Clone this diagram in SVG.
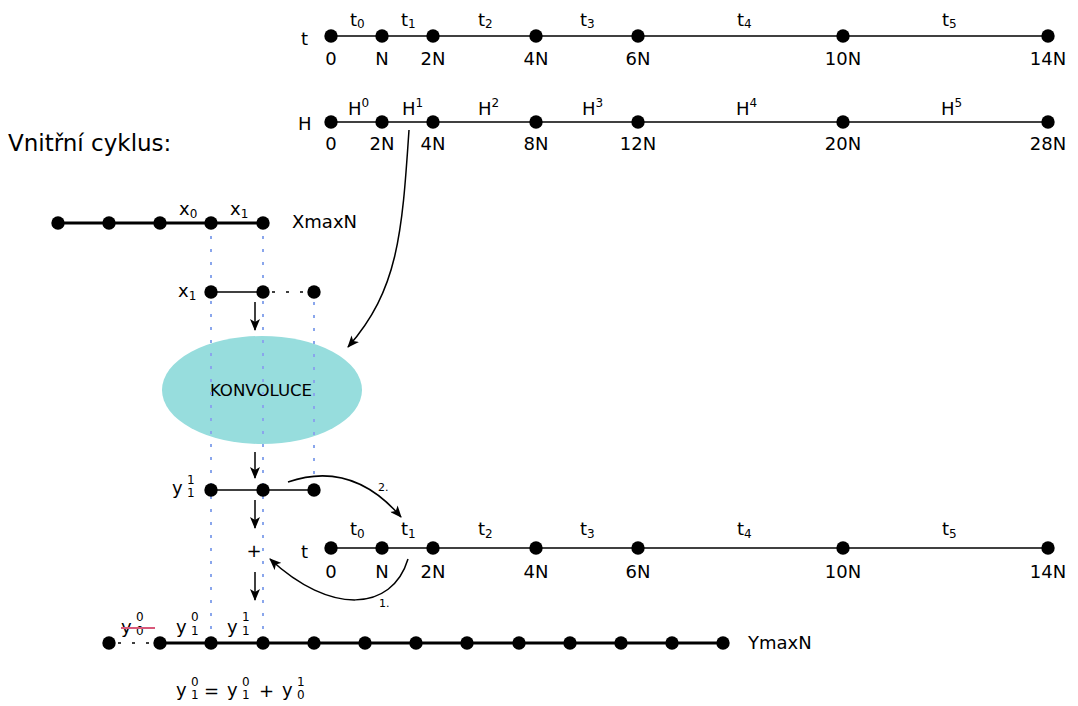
<svg xmlns="http://www.w3.org/2000/svg" width="1078" height="706" viewBox="0 0 1078 706">
<style>
text{font-family:"DejaVu Sans",sans-serif;fill:#000}
.l{font-size:18px}
.m{text-anchor:middle}
.s{font-size:12px}
.xs{font-size:11px}
.ln{stroke:#000;stroke-width:1.6;fill:none}
.th{stroke:#000;stroke-width:3;fill:none}
.dd{stroke:#000;stroke-width:1.6;stroke-dasharray:3 11;fill:none}
.bl{stroke:#8aa6ec;stroke-width:2;stroke-dasharray:3 10;fill:none}
.ar{stroke:#000;stroke-width:1.5;fill:none;marker-end:url(#a)}
</style>
<defs>
<marker id="a" viewBox="0 0 12 10" refX="11" refY="5" markerWidth="12" markerHeight="10" markerUnits="userSpaceOnUse" orient="auto">
<path d="M0,0 L12,5 L0,10 L3,5 z" fill="#000"/>
</marker>
<circle id="d" r="6.7" fill="#000"/>
</defs>
<rect width="1078" height="706" fill="#fff"/>

<text class="l" x="8" y="151" style="font-size:23px">Vnitřní cyklus:</text>

<g id="konvoluce">
<ellipse cx="262" cy="390" rx="100" ry="54" fill="#97dddd"/>
<text class="m" x="261" y="396" style="font-size:16.6px">KONVOLUCE</text>
</g>

<g id="guides">
<line class="bl" x1="211" y1="236" x2="211" y2="640"/>
<line class="bl" x1="263" y1="236" x2="263" y2="640"/>
<line class="bl" x1="314" y1="302" x2="314" y2="484"/>
</g>

<g id="t-top">
<line class="ln" x1="331" y1="36" x2="1048" y2="36"/>
<use href="#d" x="331" y="36"/><use href="#d" x="382" y="36"/><use href="#d" x="433" y="36"/><use href="#d" x="536" y="36"/><use href="#d" x="638" y="36"/><use href="#d" x="843" y="36"/><use href="#d" x="1048" y="36"/>
<text class="l" x="301" y="45">t</text>
<text class="l m" x="331" y="65">0</text><text class="l m" x="382" y="65">N</text><text class="l m" x="433" y="65">2N</text><text class="l m" x="536" y="65">4N</text><text class="l m" x="638" y="65">6N</text><text class="l m" x="843" y="65">10N</text><text class="l m" x="1048" y="65">14N</text>
<text class="l" x="350" y="26">t<tspan class="s" dy="2">0</tspan></text>
<text class="l" x="401" y="26">t<tspan class="s" dy="2">1</tspan></text>
<text class="l" x="478" y="26">t<tspan class="s" dy="2">2</tspan></text>
<text class="l" x="580" y="26">t<tspan class="s" dy="2">3</tspan></text>
<text class="l" x="737" y="26">t<tspan class="s" dy="2">4</tspan></text>
<text class="l" x="942" y="26">t<tspan class="s" dy="2">5</tspan></text>
</g>

<g id="h-line">
<line class="ln" x1="331" y1="122" x2="1048" y2="122"/>
<use href="#d" x="331" y="122"/><use href="#d" x="382" y="122"/><use href="#d" x="433" y="122"/><use href="#d" x="536" y="122"/><use href="#d" x="638" y="122"/><use href="#d" x="843" y="122"/><use href="#d" x="1048" y="122"/>
<text class="l" x="298" y="130">H</text>
<text class="l m" x="331" y="150">0</text><text class="l m" x="382" y="150">2N</text><text class="l m" x="433" y="150">4N</text><text class="l m" x="536" y="150">8N</text><text class="l m" x="638" y="150">12N</text><text class="l m" x="843" y="150">20N</text><text class="l m" x="1048" y="150">28N</text>
<text class="l" x="348" y="115">H<tspan class="s" dy="-8">0</tspan></text>
<text class="l" x="402" y="115">H<tspan class="s" dy="-8">1</tspan></text>
<text class="l" x="478" y="115">H<tspan class="s" dy="-8">2</tspan></text>
<text class="l" x="582" y="115">H<tspan class="s" dy="-8">3</tspan></text>
<text class="l" x="736" y="115">H<tspan class="s" dy="-8">4</tspan></text>
<text class="l" x="941" y="115">H<tspan class="s" dy="-8">5</tspan></text>
</g>

<g id="xmax">
<line class="th" x1="58" y1="223" x2="263" y2="223"/>
<use href="#d" x="58" y="223"/><use href="#d" x="109" y="223"/><use href="#d" x="160" y="223"/><use href="#d" x="211" y="223"/><use href="#d" x="263" y="223"/>
<text class="l" x="179" y="215">x<tspan class="s" dy="3">0</tspan></text>
<text class="l" x="230" y="215">x<tspan class="s" dy="3">1</tspan></text>
<text class="l" x="292" y="228">XmaxN</text>
</g>

<g id="x1-row">
<line class="ln" x1="211" y1="292" x2="263" y2="292"/>
<line class="dd" x1="272" y1="292" x2="310" y2="292"/>
<use href="#d" x="211" y="292"/><use href="#d" x="263" y="292"/><use href="#d" x="314" y="292"/>
<text class="l" x="178" y="297">x<tspan class="s" dy="3">1</tspan></text>
</g>

<g id="y11-row">
<line class="ln" x1="211" y1="490" x2="314" y2="490"/>
<use href="#d" x="211" y="490"/><use href="#d" x="263" y="490"/><use href="#d" x="314" y="490"/>
<text class="l" x="172" y="494">y</text>
<text class="s" x="187" y="484">1</text>
<text class="s" x="187" y="497">1</text>
</g>

<text id="plus" class="l m" x="254" y="557">+</text>

<g id="t-bottom">
<line class="ln" x1="331" y1="548" x2="1048" y2="548"/>
<use href="#d" x="331" y="548"/><use href="#d" x="382" y="548"/><use href="#d" x="433" y="548"/><use href="#d" x="536" y="548"/><use href="#d" x="638" y="548"/><use href="#d" x="843" y="548"/><use href="#d" x="1048" y="548"/>
<text class="l" x="301" y="558">t</text>
<text class="l m" x="331" y="578">0</text><text class="l m" x="382" y="578">N</text><text class="l m" x="433" y="578">2N</text><text class="l m" x="536" y="578">4N</text><text class="l m" x="638" y="578">6N</text><text class="l m" x="843" y="578">10N</text><text class="l m" x="1048" y="578">14N</text>
<text class="l" x="350" y="535">t<tspan class="s" dy="3">0</tspan></text>
<text class="l" x="401" y="535">t<tspan class="s" dy="3">1</tspan></text>
<text class="l" x="478" y="535">t<tspan class="s" dy="3">2</tspan></text>
<text class="l" x="580" y="535">t<tspan class="s" dy="3">3</tspan></text>
<text class="l" x="737" y="535">t<tspan class="s" dy="3">4</tspan></text>
<text class="l" x="942" y="535">t<tspan class="s" dy="3">5</tspan></text>
</g>

<g id="ymax">
<line class="dd" x1="118" y1="643" x2="156" y2="643"/>
<line class="th" x1="160" y1="643" x2="723" y2="643"/>
<use href="#d" x="109" y="643"/><use href="#d" x="160" y="643"/><use href="#d" x="211" y="643"/><use href="#d" x="263" y="643"/><use href="#d" x="314" y="643"/><use href="#d" x="365" y="643"/><use href="#d" x="416" y="643"/><use href="#d" x="467" y="643"/><use href="#d" x="519" y="643"/><use href="#d" x="570" y="643"/><use href="#d" x="621" y="643"/><use href="#d" x="672" y="643"/><use href="#d" x="723" y="643"/>
<text class="l" x="748" y="649">YmaxN</text>
<text class="l" x="121" y="633">y</text><text class="s" x="136" y="621">0</text><text class="s" x="136" y="635">0</text>
<line x1="121" y1="628" x2="155" y2="628" stroke="#d8587a" stroke-width="2"/>
<text class="l" x="176" y="633">y</text><text class="s" x="191" y="621">0</text><text class="s" x="191" y="635">1</text>
<text class="l" x="227" y="633">y</text><text class="s" x="242" y="621">1</text><text class="s" x="242" y="635">1</text>
</g>

<g id="equation">
<text class="l" x="176" y="696">y</text><text class="s" x="191" y="686">0</text><text class="s" x="191" y="699">1</text>
<text class="l" x="204" y="697">=</text>
<text class="l" x="227" y="696">y</text><text class="s" x="242" y="686">0</text><text class="s" x="242" y="699">1</text>
<text class="l" x="259" y="697">+</text>
<text class="l" x="282" y="696">y</text><text class="s" x="297" y="686">1</text><text class="s" x="297" y="699">0</text>
</g>

<g id="connectors">
<path class="ar" d="M409,130 C402,235 398,290 348,347"/>
<line class="ar" x1="255" y1="302" x2="255" y2="330"/>
<line class="ar" x1="255" y1="452" x2="255" y2="478"/>
<line class="ar" x1="255" y1="500" x2="255" y2="528"/>
<line class="ar" x1="255" y1="572" x2="255" y2="600"/>
<path class="ar" d="M288,482 Q352,460 401,517"/>
<path class="ar" d="M408,559 C392,612 330,615 270,559"/>
<text class="xs" x="378" y="491">2.</text>
<text class="xs" x="379" y="607">1.</text>
</g>
</svg>
